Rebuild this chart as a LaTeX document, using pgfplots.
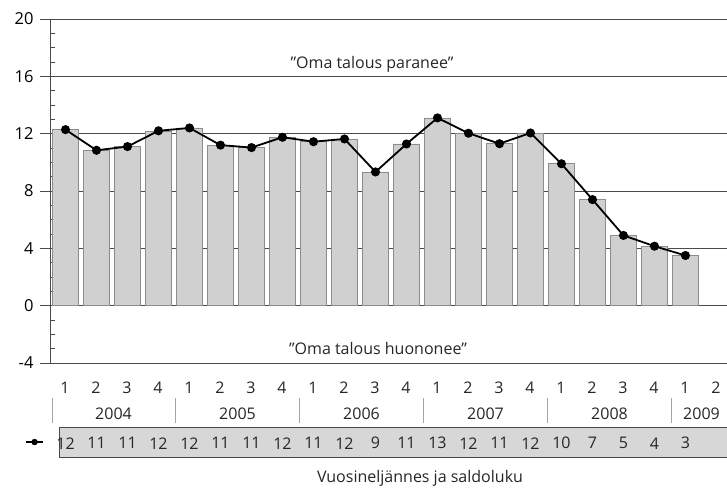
\documentclass[border=0pt]{standalone}
\usepackage{pgfplots}
\pgfplotsset{compat=1.18}
\usepackage{fontspec}
\setmainfont{Open Sans}
\definecolor{barfill}{HTML}{D0D0D0}
\definecolor{baredge}{HTML}{8C8C8C}
\definecolor{gridc}{HTML}{4A4A4A}
\begin{document}
\begin{tikzpicture}[x=1pt,y=1pt]
\useasboundingbox (0,0) rectangle (727,491);
% data table row box
\draw[gridc, line width=0.9pt, fill=barfill!85] (59,34) rectangle (740,64);
\begin{axis}[
    at={(50pt,128pt)}, anchor=south west,
    scale only axis, width=677pt, height=344pt,
    xmin=-0.5, xmax=21.34, ymin=-4, ymax=20,
    axis lines*=left,
    axis line style={gridc, line width=1pt},
    clip=false,
    ytick={-4,0,...,20},
    minor y tick num=3,
    ymajorgrids,
    major grid style={gridc, line width=1pt},
    tick align=inside,
    major tick length=10pt,
    minor tick length=5pt,
    ytick style={gridc, line width=0.8pt},
    extra y ticks={-4,0,...,20},
    extra y tick labels={},
    extra y tick style={tick align=outside, grid=none},
    xtick={0,...,21},
    xticklabels={},
    xtick style={draw=none},
    tick label style={font=\fontsize{16.5}{18}\selectfont},
    yticklabel style={xshift=-13pt},
    /pgf/number format/assume math mode=true,
    legend style={at={(-0.022,-0.2297)}, anchor=center, draw=none, fill=none,
        inner sep=0pt, nodes={inner sep=0pt}},
    legend image post style={mark size=2.5pt, line width=1.3pt},
]
\addplot[ybar, bar width=26pt, fill=barfill, draw=baredge, line width=0.6pt, forget plot]
    coordinates {
    (0,12.28) (1,10.84) (2,11.1) (3,12.2) (4,12.4) (5,11.2) (6,11.03)
    (7,11.75) (8,11.44) (9,11.63) (10,9.33) (11,11.28) (12,13.1) (13,12.03)
    (14,11.3) (15,12.05) (16,9.9) (17,7.4) (18,4.9) (19,4.15) (20,3.5)};
\addplot[black, line width=1.8pt, mark=*, mark size=3.6pt]
    coordinates {
    (0,12.28) (1,10.84) (2,11.1) (3,12.2) (4,12.4) (5,11.2) (6,11.03)
    (7,11.75) (8,11.44) (9,11.63) (10,9.33) (11,11.28) (12,13.1) (13,12.03)
    (14,11.3) (15,12.05) (16,9.9) (17,7.4) (18,4.9) (19,4.15) (20,3.5)};
\addlegendentry{}
% rounded values in the table row
\addplot[draw=none, mark=none, forget plot,
    nodes near coords, point meta=explicit symbolic,
    every node near coord/.append style={anchor=center, font=\fontsize{16}{18}\selectfont, text=black!85}]
    coordinates {
    (0,-9.6) [12] (1,-9.6) [11] (2,-9.6) [11] (3,-9.6) [12] (4,-9.6) [12]
    (5,-9.6) [11] (6,-9.6) [11] (7,-9.6) [12] (8,-9.6) [11] (9,-9.6) [12]
    (10,-9.6) [9] (11,-9.6) [11] (12,-9.6) [13] (13,-9.6) [12] (14,-9.6) [11]
    (15,-9.6) [12] (16,-9.6) [10] (17,-9.6) [7] (18,-9.6) [5] (19,-9.6) [4]
    (20,-9.6) [3]};
\end{axis}
% annotations
\begin{scope}[every node/.style={font=\fontsize{16}{18}\selectfont, text=black!85}]
\node at (372,427) {”Oma talous paranee”};
\node at (378,143) {”Oma talous huononee”};
\foreach \q [count=\i from 0] in {1,2,3,4,1,2,3,4,1,2,3,4,1,2,3,4,1,2,3,4,1,2}
    \node at ({65+31*\i},103) {\q};
\node at (113.5,77) {2004};
\node at (237.5,77) {2005};
\node at (361.5,77) {2006};
\node at (485.5,77) {2007};
\node at (609.5,77) {2008};
\node at (701.5,77) {2009};
\node at (420,13) {Vuosineljännes ja saldoluku};
\end{scope}
\foreach \sx in {52,175.8,299.6,423.4,547.2,671}
    \draw[gray!70, line width=0.8pt] (\sx,68) -- (\sx,93);
\end{tikzpicture}
\end{document}
